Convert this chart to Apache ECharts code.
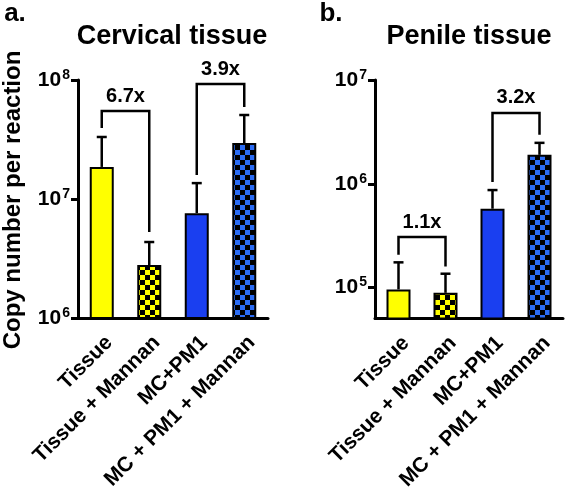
<!DOCTYPE html>
<html><head><meta charset="utf-8">
<script src="https://cdn.jsdelivr.net/npm/echarts@6/dist/echarts.min.js"></script>
<style>html,body{margin:0;padding:0;background:#fff}#c{width:566px;height:493px}</style>
</head><body><div id="c"></div>
<script>
// ---- data ----
const categories = ['Tissue', 'Tissue + Mannan', 'MC+PM1', 'MC + PM1 + Mannan'];
const cervicalMean = [1.86e7, 2.79e6, 7.6e6, 2.95e7];
const cervicalErrTop = [3.32e7, 4.35e6, 1.36e7, 5.08e7];
const penileMean = [9.6e4, 8.9e4, 5.75e5, 1.9e6];
const penileErrTop = [1.75e5, 1.36e5, 8.7e5, 2.48e6];
// brackets: [fromCat, toCat, barHeight, leftLegEnd, rightLegEnd]
const cervicalBrackets = [[0, 1, 5.48e7, 3.95e7, 5.28e6], [2, 3, 9.25e7, 1.59e7, 5.93e7]];
const cervicalBracketLabels = ['6.7x', '3.9x'];
const penileBrackets = [[0, 1, 3.07e5, 2.07e5, 1.6e5], [2, 3, 4.82e6, 1.04e6, 2.96e6]];
const penileBracketLabels = ['1.1x', '3.2x'];
const cervicalTickExp = [6, 7, 8];
const penileTickExp = [5, 6, 7];
const cervicalRange = [1e6, 1e8];
const penileRange = [5.04e4, 1e7];

// ---- styles ----
const FONT = '"Liberation Sans", Arial, Helvetica, sans-serif';
const YELLOW = '#ffff00';
const BLUE = '#1a3ff0';
const BLUE2 = '#2b6cf5';

function checker(bg) {
  const c = document.createElement('canvas');
  c.width = 10; c.height = 10;
  const g = c.getContext('2d');
  g.fillStyle = bg; g.fillRect(0, 0, 10, 10);
  g.fillStyle = '#000'; g.fillRect(0, 0, 5, 5); g.fillRect(5, 5, 5, 5);
  return { image: c, repeat: 'repeat' };
}
const fills = [YELLOW, checker(YELLOW), BLUE, checker(BLUE2)];
const L = Math.log10;

function yAxisFor(gi, range, exps) {
  return {
    type: 'value', gridIndex: gi, min: L(range[0]), max: L(range[1]),
    splitLine: { show: false },
    axisLine: { show: true, lineStyle: { color: '#000', width: 3 } },
    axisTick: { show: true, length: 7, lineStyle: { color: '#000', width: 3 }, customValues: exps },
    axisLabel: {
      customValues: exps, margin: 8,
      formatter: v => '{b|10}{s|' + Math.round(v) + '}',
      rich: {
        b: { fontFamily: FONT, fontWeight: 'bold', fontSize: 21, color: '#000' },
        s: { fontFamily: FONT, fontWeight: 'bold', fontSize: 14, color: '#000', verticalAlign: 'top', padding: [0, 0, 10, 1] }
      }
    }
  };
}
function xAxisFor(gi) {
  return {
    type: 'category', gridIndex: gi, data: categories,
    axisLine: { lineStyle: { color: '#000', width: 3 } },
    axisTick: { alignWithLabel: true, length: 8, lineStyle: { color: '#000', width: 3 } },
    axisLabel: { rotate: 45, margin: 14, interval: 0, verticalAlign: 'top', fontFamily: FONT, fontWeight: 'bold', fontSize: 21, color: '#000' }
  };
}
function barSeries(gi, means) {
  return {
    type: 'bar', xAxisIndex: gi, yAxisIndex: gi, barWidth: 24, z: 3,
    data: means.map((v, i) => ({ value: L(v), itemStyle: { color: fills[i], borderColor: '#000', borderWidth: 2 } }))
  };
}
function errSeries(gi, means, tops) {
  return {
    type: 'custom', xAxisIndex: gi, yAxisIndex: gi, z: 2,
    data: means.map((v, i) => [i, L(v), L(tops[i])]),
    renderItem: (params, api) => {
      const p0 = api.coord([api.value(0), api.value(1)]);
      const p1 = api.coord([api.value(0), api.value(2)]);
      const st = { stroke: '#000', lineWidth: 2.5 };
      return { type: 'group', children: [
        { type: 'line', shape: { x1: p0[0], y1: p0[1], x2: p1[0], y2: p1[1] }, style: st },
        { type: 'line', shape: { x1: p1[0] - 5, y1: p1[1], x2: p1[0] + 5, y2: p1[1] }, style: st }
      ] };
    }
  };
}
function bracketSeries(gi, brs, labels) {
  return {
    type: 'custom', xAxisIndex: gi, yAxisIndex: gi, z: 4,
    data: brs.map(b => [b[0], b[1], L(b[2]), L(b[3]), L(b[4])]),
    renderItem: (params, api) => {
      const a = api.coord([api.value(0), api.value(3)]);
      const h1 = api.coord([api.value(0), api.value(2)]);
      const h2 = api.coord([api.value(1), api.value(2)]);
      const b = api.coord([api.value(1), api.value(4)]);
      return { type: 'group', children: [
        { type: 'polyline', shape: { points: [a, h1, h2, b] }, style: { stroke: '#000', lineWidth: 2.5, fill: null } },
        { type: 'text', style: { text: labels[params.dataIndex], x: (h1[0] + h2[0]) / 2, y: h1[1] - 5,
          align: 'center', verticalAlign: 'bottom', font: 'bold 20px ' + FONT, fill: '#000' } }
      ] };
    }
  };
}

const chart = echarts.init(document.getElementById('c'), null, { renderer: 'canvas' });
const txt = (s, x, y, size, extra) => Object.assign({ type: 'text', x: x, y: y,
  style: { text: s, font: 'bold ' + size + 'px ' + FONT, fill: '#000', align: 'center', verticalAlign: 'middle' } }, extra || {});
chart.setOption({
  animation: false,
  grid: [
    { left: 78, top: 80, width: 190, height: 238 },
    { left: 375, top: 80, width: 188, height: 239 }
  ],
  xAxis: [xAxisFor(0), xAxisFor(1)],
  yAxis: [yAxisFor(0, cervicalRange, cervicalTickExp), yAxisFor(1, penileRange, penileTickExp)],
  series: [
    barSeries(0, cervicalMean), errSeries(0, cervicalMean, cervicalErrTop), bracketSeries(0, cervicalBrackets, cervicalBracketLabels),
    barSeries(1, penileMean), errSeries(1, penileMean, penileErrTop), bracketSeries(1, penileBrackets, penileBracketLabels)
  ],
  graphic: [
    txt('a.', 15, 14, 26),
    txt('b.', 331, 14, 26),
    txt('Cervical tissue', 172, 37, 27),
    txt('Penile tissue', 469, 37, 27),
    txt('Copy number per reaction', 13, 200, 24, { rotation: Math.PI / 2 })
  ]
});
</script></body></html>
